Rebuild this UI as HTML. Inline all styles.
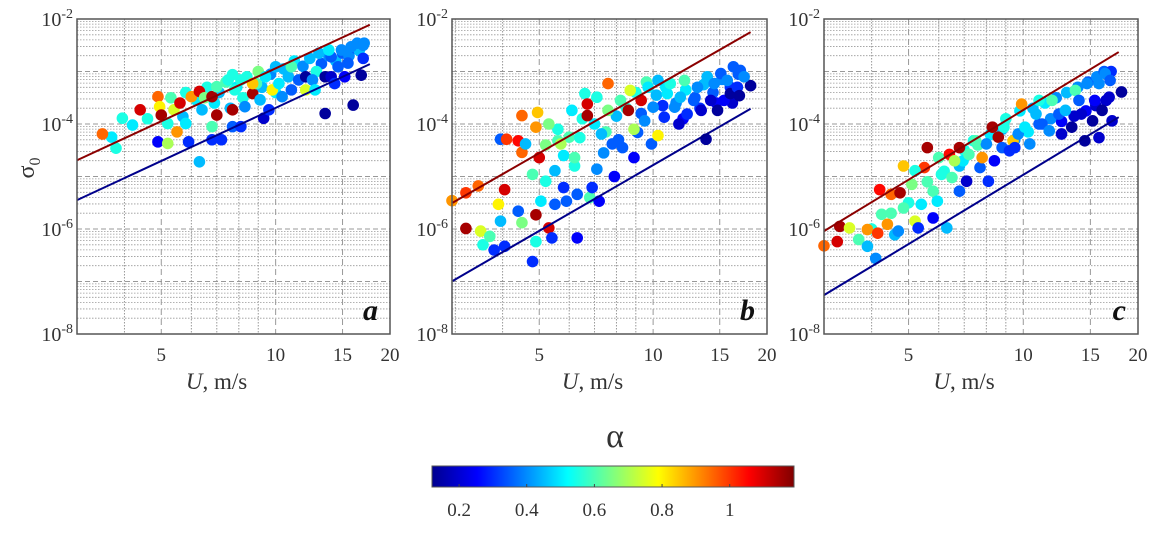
<!DOCTYPE html>
<html><head><meta charset="utf-8"><style>
body{margin:0;background:#fff;width:1158px;height:531px;overflow:hidden}
svg text{font-family:"Liberation Serif",serif;fill:#333}
</style></head><body>
<svg id="fig" width="1158" height="531" viewBox="0 0 1158 531" xmlns="http://www.w3.org/2000/svg">
<defs><linearGradient id="jet" x1="0" x2="1" y1="0" y2="0">
<stop offset="0" stop-color="#00008f"/><stop offset="0.125" stop-color="#0000ff"/><stop offset="0.375" stop-color="#00ffff"/><stop offset="0.625" stop-color="#ffff00"/><stop offset="0.875" stop-color="#ff0000"/><stop offset="1" stop-color="#800000"/></linearGradient></defs>
</svg>
<script>
// Panel a data: U (m/s), log10 sigma0, alpha
const Ua=[3.5,3.8,3.95,4.2,4.4,4.9,4.9,4.95,5.0,5.2,5.4,5.5,5.6,5.7,5.9,6.0,6.3,6.4,6.5,6.3,6.8,7.0,6.8,7.2,7.0,7.5,7.7,7.7,8.1,8.1,8.3,8.7,8.9,9.3,9.1,9.6,9.8,10,10.2,10.4,10.8,11.0,11.5,12.0,12,12.5,12.7,13,13.5,13.5,14,14,14.6,14.9,15.5,15.8,16,16.4,16.8,17,17.1,15.2,11,8.7,6.8,5.8,5.2,7.8,13.8,14.3,7.7,9.4];
const Sa=[-4.19,-4.46,-3.89,-4.02,-3.73,-3.48,-4.34,-3.67,-3.83,-4.37,-3.73,-4.15,-3.6,-3.86,-4.34,-3.48,-3.38,-3.73,-3.5,-4.72,-3.48,-3.83,-4.3,-4.3,-3.29,-3.16,-3.73,-4.05,-3.16,-4.05,-3.67,-3.42,-3.23,-3.89,-3.54,-3.73,-3.35,-2.91,-3.23,-3.48,-3.1,-2.91,-3.16,-3.35,-3.1,-3.16,-3.35,-2.65,-3.8,-3.1,-2.72,-3.1,-2.91,-2.59,-2.84,-2.53,-3.64,-2.46,-3.07,-2.75,-2.46,-3.1,-3.35,-3.23,-4.05,-3.99,-3.99,-3.35,-2.59,-3.23,-3.06,-3.1];
const Aa=[0.95,0.55,0.55,0.5,1.1,0.95,0.25,0.8,1.15,0.7,0.75,0.9,1.1,0.45,0.3,0.9,1.1,0.45,0.65,0.45,1.15,1.15,0.3,0.3,0.6,0.55,1.15,0.35,0.55,0.3,0.4,1.15,0.6,0.2,0.45,0.3,0.8,0.45,0.5,0.4,0.45,0.6,0.35,0.75,0.15,0.4,0.5,0.45,0.15,0.15,0.35,0.2,0.35,0.4,0.35,0.4,0.15,0.4,0.15,0.3,0.4,0.25,0.35,0.85,0.6,0.5,0.55,0.55,0.5,0.3,0.55,0.5];
const Ua2=[5.3,5.8,6.2,6.6,7.1,7.4,7.9,8.4,9.0,9.7,10.5,11.2,11.8,12.3,13.2,13.8,14.4,15.0,15.6,16.2,16.6,17.0,6.9,7.6,8.2,9.2,10.0,4.6,3.7,12.8];
const Sa2=[-3.5,-3.4,-3.55,-3.3,-3.4,-3.2,-3.3,-3.1,-3.0,-3.05,-2.95,-2.8,-2.9,-2.75,-2.85,-2.7,-2.8,-2.65,-2.7,-2.55,-2.6,-2.5,-3.6,-3.7,-3.5,-3.3,-3.4,-3.9,-4.25,-3.0];
const Aa2=[0.6,0.55,0.5,0.55,0.45,0.6,0.5,0.55,0.65,0.4,0.45,0.5,0.4,0.45,0.35,0.4,0.45,0.35,0.4,0.35,0.45,0.4,0.5,0.45,0.55,0.45,0.5,0.55,0.5,0.55];
// Panel b
const Ub=[2.94,3.2,3.2,3.45,3.5,3.55,3.7,3.8,3.9,3.95,3.95,4.05,4.1,4.05,4.4,4.4,4.5,4.5,4.5,4.6,4.8,4.8,4.9,4.9,4.95,4.9,5.0,5.05,5.2,5.3,5.3,5.4,5.5,5.5,5.6,5.7,5.8,5.9,6.1,6.2,6.3,6.3,6.4,6.6,6.7,6.7,6.8,6.9,7.1,7.1,7.2,7.3,7.6,7.8,7.9,8.2,8.3,8.6,8.7,8.9,9.1,9.3,9.5,9.7,9.9,10,10.3,10.3,10.7,10.9,11.1,11.4,11.7,11.8,12.1,12.3,12.8,13.1,13.4,13.8,13.9,14.2,14.5,14.8,15.1,15.4,15.7,16.0,16.3,16.7,16.9,17.0,18.1,17.4,7.6,8.9];
const Sb=[-5.46,-5.31,-5.99,-5.18,-6.04,-6.3,-6.14,-6.4,-5.53,-4.29,-5.85,-5.25,-4.29,-6.33,-4.32,-5.66,-5.88,-3.84,-4.54,-4.38,-6.62,-4.96,-5.73,-4.06,-3.78,-6.24,-4.64,-5.47,-5.09,-4.0,-5.98,-6.17,-5.53,-4.89,-4.32,-4.38,-5.21,-5.47,-3.74,-4.64,-6.17,-5.34,-4.26,-3.42,-3.62,-3.84,-5.4,-5.21,-4.86,-3.49,-5.47,-4.19,-3.23,-4.38,-5.0,-3.55,-4.45,-3.74,-3.36,-4.64,-4.16,-3.55,-3.94,-3.3,-4.38,-3.68,-3.17,-4.22,-3.87,-3.42,-3.23,-3.68,-4.0,-3.49,-3.17,-3.81,-3.55,-3.3,-3.74,-4.29,-3.1,-3.55,-3.23,-3.74,-3.04,-3.55,-3.17,-3.42,-2.91,-3.3,-3.46,-2.98,-3.27,-3.1,-3.74,-4.1];
const Ab=[0.9,1.0,1.15,0.95,0.75,0.55,0.6,0.3,0.8,0.35,0.45,1.1,1.0,0.3,1.05,0.35,0.65,0.95,0.95,0.45,0.3,0.6,1.15,0.9,0.85,0.55,1.1,0.5,0.55,0.65,1.1,0.3,0.35,0.45,0.6,0.7,0.3,0.35,0.5,0.6,0.25,0.35,0.55,0.55,1.1,1.15,0.6,0.3,0.4,0.55,0.25,0.45,0.95,0.35,0.25,0.6,0.35,1.15,0.75,0.25,0.35,1.1,0.4,0.5,0.35,0.4,0.45,0.8,0.3,0.5,0.55,0.4,0.2,0.45,0.6,0.3,0.35,0.4,0.2,0.15,0.45,0.2,0.4,0.15,0.35,0.25,0.4,0.15,0.35,0.3,0.15,0.35,0.15,0.4,0.65,0.7];
const Ub2=[9.0,9.6,10.2,10.8,11.5,12.2,12.9,13.6,14.4,15.2,16.0,16.8,9.3,10.6,12.0,13.3,14.7,16.2,5.6,6.0,6.5,7.0,7.5,8.0,8.5,5.2,5.8,6.2,7.4,8.1];
const Sb2=[-3.4,-3.2,-3.45,-3.3,-3.6,-3.35,-3.5,-3.25,-3.4,-3.15,-3.3,-3.05,-3.8,-3.65,-3.9,-3.7,-3.6,-3.6,-4.1,-4.25,-3.9,-4.0,-4.15,-3.85,-3.7,-4.4,-4.6,-4.8,-4.55,-4.3];
const Ab2=[0.55,0.6,0.45,0.5,0.4,0.5,0.35,0.45,0.35,0.4,0.3,0.35,0.35,0.3,0.25,0.3,0.25,0.2,0.55,0.6,0.55,0.5,0.6,0.45,0.55,0.65,0.5,0.55,0.4,0.35];
// Panel c
const Uc=[3.0,3.25,3.3,3.5,3.7,3.9,3.9,4.1,4.15,4.2,4.25,4.4,4.5,4.6,4.7,4.75,4.85,4.85,5.1,5.2,5.3,5.4,5.5,5.6,5.8,5.8,5.95,6.0,6.1,6.3,6.4,6.5,6.8,6.8,6.95,7.1,7.2,7.4,7.7,7.8,8.0,8.1,8.3,8.4,8.6,8.8,8.9,9.2,9.4,9.5,9.7,9.9,10.1,10.4,10.8,11.0,11.2,11.7,11.9,12.4,12.6,12.9,13.4,13.7,14.0,14.2,14.5,14.7,15.2,15.4,15.8,15.8,16.1,16.4,16.8,16.9,18.1,17.1,7.5,6.6,5.2];
const Sc=[-6.32,-6.24,-5.95,-5.98,-6.2,-6.33,-6.01,-6.56,-6.08,-5.25,-5.72,-5.91,-5.34,-6.11,-6.04,-5.31,-5.6,-4.8,-5.15,-5.85,-5.98,-5.53,-4.83,-4.45,-5.79,-5.28,-5.47,-4.64,-4.96,-5.98,-4.58,-5.02,-4.45,-5.28,-4.7,-5.09,-4.58,-4.32,-4.83,-4.64,-4.38,-5.09,-4.06,-4.7,-4.25,-4.45,-4.06,-4.51,-4.32,-4.45,-4.19,-3.62,-4.06,-4.38,-3.81,-3.55,-4.0,-4.13,-3.55,-3.81,-4.19,-3.74,-4.06,-3.36,-3.55,-3.81,-4.32,-3.23,-3.94,-3.55,-3.23,-4.26,-3.74,-3.04,-3.49,-3.17,-3.39,-3.94,-4.32,-4.7,-4.89];
const Ac=[0.95,1.1,1.15,0.75,0.6,0.45,0.9,0.4,1.0,1.05,0.6,0.9,0.95,0.45,0.4,1.15,0.6,0.85,0.65,0.75,0.3,0.5,1.0,1.15,0.25,0.6,0.5,0.6,0.55,0.45,1.05,0.6,1.15,0.35,0.5,0.2,0.6,0.55,0.35,0.9,0.4,0.3,1.15,0.25,1.15,0.35,0.55,0.3,0.85,0.3,0.4,0.9,0.5,0.4,0.45,0.55,0.35,0.4,0.6,0.35,0.2,0.45,0.15,0.6,0.35,0.2,0.15,0.4,0.15,0.25,0.4,0.2,0.15,0.4,0.2,0.35,0.15,0.2,0.6,0.7,0.55];
const Uc2=[9.0,9.8,10.6,11.4,12.2,13.0,13.9,14.8,15.6,16.3,17.0,12.6,13.6,14.6,15.5,16.5,7.0,7.6,8.2,8.8,6.2,5.6,5.0,4.5,6.8,9.5,10.3,11.0,11.8,4.0];
const Sc2=[-3.9,-3.75,-3.7,-3.6,-3.5,-3.4,-3.3,-3.2,-3.1,-3.0,-3.0,-3.95,-3.85,-3.75,-3.65,-3.55,-4.5,-4.4,-4.2,-4.1,-4.9,-5.1,-5.5,-5.7,-4.8,-4.3,-4.15,-4.0,-3.9,-6.0];
const Ac2=[0.55,0.5,0.45,0.5,0.4,0.45,0.4,0.35,0.4,0.35,0.3,0.25,0.2,0.25,0.2,0.2,0.55,0.6,0.5,0.45,0.55,0.6,0.55,0.6,0.45,0.4,0.5,0.35,0.4,0.55];
// Fit lines: endpoints [U], [log10 sigma]
const lineU_a=[3.0,17.7], redS_a=[-4.69,-2.11], blueS_a=[-5.45,-2.86];
const lineU_b=[2.95,18.1], redS_b=[-5.5,-2.25], blueS_b=[-6.99,-3.71];
const lineU_c=[3.0,17.8], redS_c=[-6.04,-2.63], blueS_c=[-7.26,-3.87];
const xTicks=[5,10,15,20];
const yTicks=[-2,-4,-6,-8];
const cbTicks=[0.2,0.4,0.6,0.8,1];
const cbRange=[0.12,1.19];

const NS='http://www.w3.org/2000/svg';
const svg=document.getElementById('fig');
function mk(tag,attrs,parent){const e=document.createElementNS(NS,tag);for(const k in attrs)e.setAttribute(k,attrs[k]);(parent||svg).appendChild(e);return e;}
function jet(v){let t=(v-cbRange[0])/(cbRange[1]-cbRange[0]);t=Math.max(0,Math.min(1,t));
 const f=x=>Math.max(0,Math.min(1,x));
 const r=f(Math.min(4*t-1.5,-4*t+4.5)),g=f(Math.min(4*t-0.5,-4*t+3.5)),b=f(Math.min(4*t+0.5,-4*t+2.5));
 return `rgb(${Math.round(r*255)},${Math.round(g*255)},${Math.round(b*255)})`;}

const panels=[
 {id:'a',x0:77,x1:390,xmin:3.0,U:Ua2.concat(Ua),S:Sa2.concat(Sa),A:Aa2.concat(Aa),LU:lineU_a,R:redS_a,B:blueS_a},
 {id:'b',x0:452,x1:767,xmin:2.94,U:Ub2.concat(Ub),S:Sb2.concat(Sb),A:Ab2.concat(Ab),LU:lineU_b,R:redS_b,B:blueS_b},
 {id:'c',x0:824,x1:1138,xmin:3.0,U:Uc2.concat(Uc),S:Sc2.concat(Sc),A:Ac2.concat(Ac),LU:lineU_c,R:redS_c,B:blueS_c}];
const y0=19,y1=334;
panels.forEach(p=>{
 const g=mk('g',{});
 
 
 const lx0=Math.log10(p.xmin),lx1=Math.log10(20);
 const X=u=>p.x0+(Math.log10(u)-lx0)/(lx1-lx0)*(p.x1-p.x0);
 const Y=s=>y0+(-2-s)/6*(y1-y0);
 const grid=mk('g',{},g);
 
 
 for(let d=-8;d<-2;d++)for(let m=1;m<10;m++){const s=d+Math.log10(m);const yy=Y(s);
  mk('line',{x1:p.x0,x2:p.x1,y1:yy,y2:yy,stroke:'#999','stroke-width':m==1?1:0.8,'stroke-dasharray':m==1?'5,3':'1.5,1.5'},grid);}
 [3,4,5,6,7,8,9,10,15,20].forEach(u=>{if(u<p.xmin)return;const xx=X(u);const major=xTicks.includes(u);
  mk('line',{x1:xx,x2:xx,y1:y0,y2:y1,stroke:'#999','stroke-width':1,'stroke-dasharray':major?'6,4':'1.5,1.5'},grid);});
 const pts=mk('g',{},g);
 
 
 p.U.forEach((u,i)=>{const c=mk('circle',{cx:X(u),cy:Y(p.S[i]),r:5.8,fill:jet(p.A[i])},pts);
  
  });
 const rl=mk('line',{x1:X(p.LU[0]),x2:X(p.LU[1]),y1:Y(p.R[0]),y2:Y(p.R[1]),stroke:'#8b0000','stroke-width':2},g);
 
 
 const bl=mk('line',{x1:X(p.LU[0]),x2:X(p.LU[1]),y1:Y(p.B[0]),y2:Y(p.B[1]),stroke:'#00008b','stroke-width':2},g);
 
 
 const fr=mk('rect',{x:p.x0,y:y0,width:p.x1-p.x0,height:y1-y0,fill:'none',stroke:'#555','stroke-width':1.5},g);
 
 
 xTicks.forEach(t=>{const tx=mk('text',{x:X(t),y:361,'font-size':19,'text-anchor':'middle'},g);tx.textContent=t;
  
  });
 yTicks.forEach(t=>{const tx=mk('text',{x:p.x0-4,y:Y(t)+7,'font-size':20,'text-anchor':'end'},g);
  
  
  tx.innerHTML='10<tspan dy="-8" font-size="14">'+t+'</tspan>';});
 const xt=mk('text',{x:(p.x0+p.x1)/2-17,y:389,'font-size':23,'text-anchor':'middle'},g);
 
 
 xt.innerHTML='<tspan font-style="italic">U</tspan>, m/s';
 const pl=mk('text',{x:p.x1-12,y:y1-14,'font-size':30,'font-weight':'bold','font-style':'italic','text-anchor':'end'},g);
 
 
 pl.style.fill='#111';
 pl.textContent=p.id;
});
const yt=mk('text',{x:0,y:0,'font-size':24,transform:'translate(34,168) rotate(-90)','text-anchor':'middle'});


yt.innerHTML='σ<tspan dy="6" font-size="16">0</tspan>';
const cbx0=432,cbx1=794;
const cb=mk('rect',{x:cbx0,y:466,width:cbx1-cbx0,height:21,fill:'url(#jet)',stroke:'#555','stroke-width':1});


cbTicks.forEach(t=>{const xx=cbx0+(t-cbRange[0])/(cbRange[1]-cbRange[0])*(cbx1-cbx0);
 mk('line',{x1:xx,x2:xx,y1:484,y2:487,stroke:'#444','stroke-width':1});
 const tx=mk('text',{x:xx,y:516,'font-size':19,'text-anchor':'middle'});
 
 
 tx.textContent=t;});
const al=mk('text',{x:615,y:447,'font-size':34,'text-anchor':'middle'});


al.textContent='α';
</script>
</body></html>
